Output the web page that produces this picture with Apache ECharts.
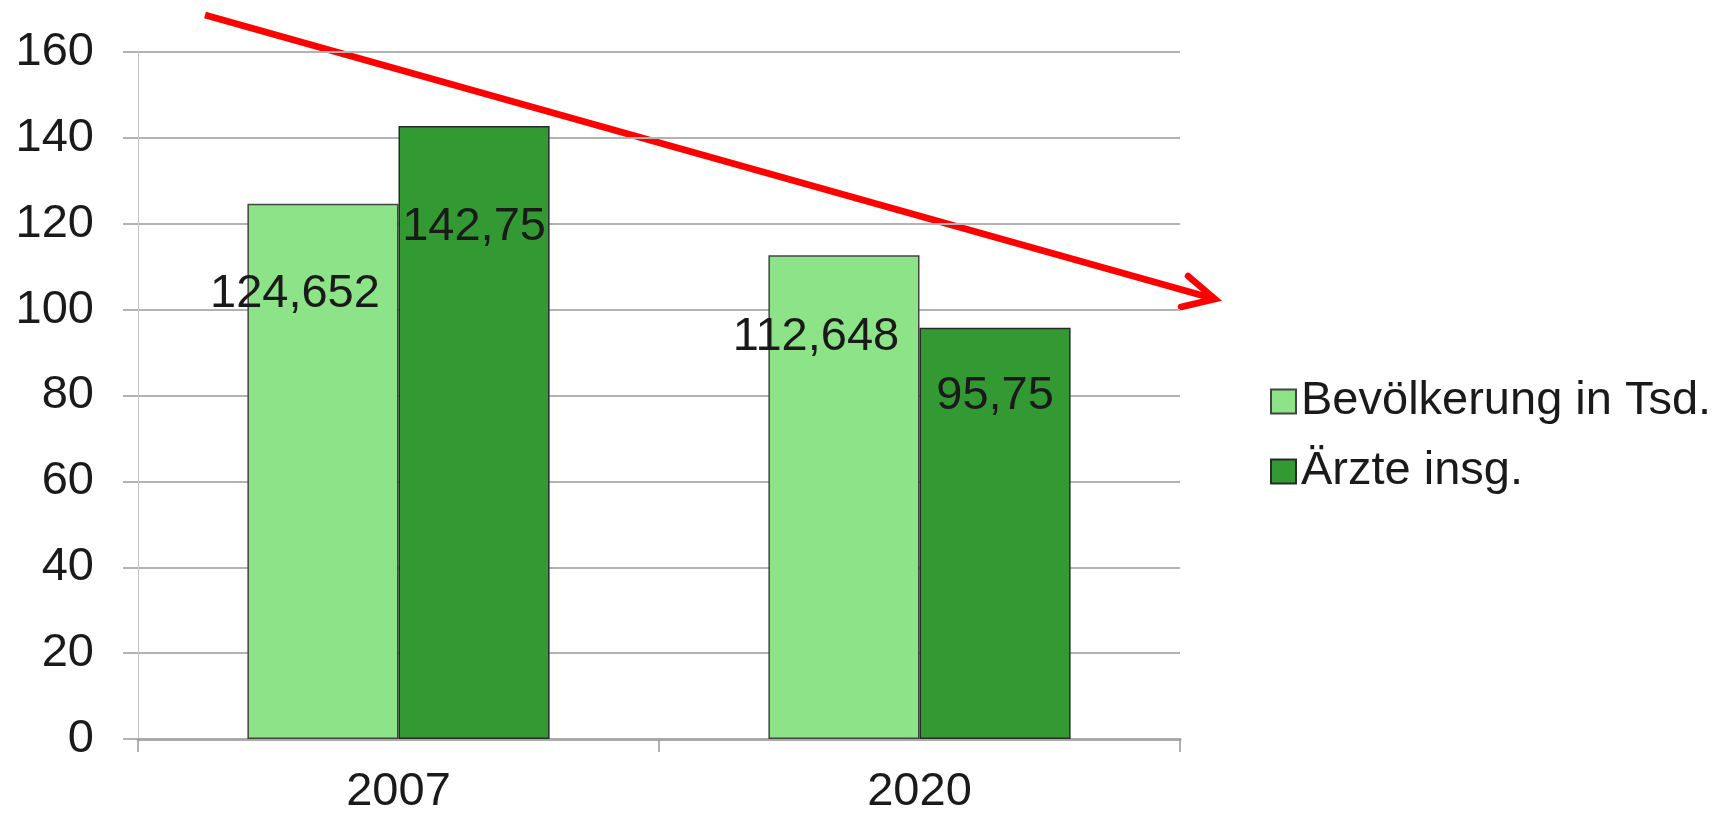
<!DOCTYPE html>
<html>
<head>
<meta charset="utf-8">
<script src="https://cdn.jsdelivr.net/npm/echarts@6/dist/echarts.min.js"></script>
<style>
html,body{margin:0;padding:0;background:#fff;}
#c{width:1733px;height:816px;}
</style>
</head>
<body>
<div id="c"></div>
<script>
const categories = ['2007', '2020'];
const seriesNames = ['Bevölkerung in Tsd.', 'Ärzte insg.'];
const bevoelkerung = [124.652, 112.648];
const aerzte = [142.75, 95.75];
const yTicks = [0, 20, 40, 60, 80, 100, 120, 140, 160];

const FONT = '"Liberation Sans", Arial, sans-serif';
const TXT = '#1a1a1a';
const fmt = p => String(p.value).replace('.', ',');

const chart = echarts.init(document.getElementById('c'));
chart.setOption({
  animation: false,
  backgroundColor: '#ffffff',
  textStyle: { fontFamily: FONT },
  grid: { left: 138, right: 553, top: 52, bottom: 74.5, containLabel: false },
  legend: {
    orient: 'vertical',
    left: 1270,
    top: 378,
    padding: 0,
    itemWidth: 25,
    itemHeight: 24,
    itemGap: 23,
    itemTextGap: 9,
    icon: 'rect',
    data: seriesNames,
    textStyle: { fontSize: 47, lineHeight: 46, color: TXT, fontFamily: FONT }
  },
  xAxis: {
    type: 'category',
    data: categories,
    axisLine: { show: true, lineStyle: { color: '#aaaaaa', width: 3 } },
    axisTick: { show: true, length: 13, lineStyle: { color: '#999999', width: 1.5 } },
    axisLabel: { fontSize: 47, margin: 30, color: TXT, fontFamily: FONT },
    splitLine: { show: false }
  },
  yAxis: {
    type: 'value',
    min: yTicks[0],
    max: yTicks[yTicks.length - 1],
    interval: yTicks[1] - yTicks[0],
    axisLine: { show: true, lineStyle: { color: '#c4c4c4', width: 1 } },
    axisTick: { show: true, length: 15, lineStyle: { color: '#b3b3b3', width: 2 } },
    axisLabel: { fontSize: 47, margin: 44, color: TXT, fontFamily: FONT },
    splitLine: { show: true, lineStyle: { color: '#b3b3b3', width: 2 } }
  },
  series: [
    {
      name: seriesNames[0],
      type: 'bar',
      data: bevoelkerung,
      barWidth: '29%',
      barGap: '0%',
      itemStyle: { color: '#8de388', borderColor: '#444444', borderWidth: 1.5 },
      label: {
        show: true,
        position: ['50%', '16.8%'],
        align: 'center',
        verticalAlign: 'middle',
        offset: [-28, 0],
        formatter: fmt,
        fontSize: 47,
        color: TXT,
        fontFamily: FONT
      }
    },
    {
      name: seriesNames[1],
      type: 'bar',
      data: aerzte,
      barWidth: '29%',
      barGap: '0%',
      itemStyle: { color: '#339933', borderColor: '#2a2a2a', borderWidth: 1.5 },
      label: {
        show: true,
        position: ['50%', '16.5%'],
        align: 'center',
        verticalAlign: 'middle',
        formatter: fmt,
        fontSize: 47,
        color: TXT,
        fontFamily: FONT
      }
    }
  ],
  graphic: [
    {
      type: 'group',
      z: 100,
      silent: true,
      children: [
        {
          type: 'line',
          shape: { x1: 205, y1: 15, x2: 1213, y2: 298.5 },
          style: { stroke: '#ff0000', lineWidth: 6.5 }
        },
        {
          type: 'polyline',
          shape: { points: [[1188, 276], [1215, 299], [1181, 307]] },
          style: { stroke: '#ff0000', lineWidth: 6.5, fill: null, lineJoin: 'miter', lineCap: 'round' }
        }
      ]
    }
  ]
});
</script>
</body>
</html>
